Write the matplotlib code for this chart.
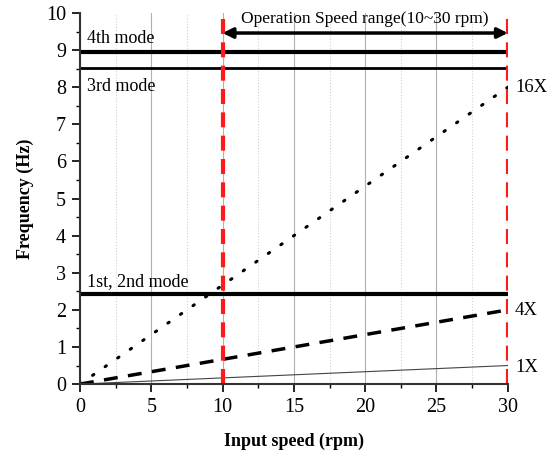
import matplotlib
matplotlib.use("Agg")
import matplotlib.pyplot as plt
from matplotlib.ticker import MultipleLocator

plt.rcParams['font.family'] = ['Liberation Serif', 'DejaVu Serif']

speed = [0, 30]
x1 = [0.0, 0.5]
x4 = [0.0, 2.0]
x16 = [0.0, 8.0]
mode12 = 2.42
mode3 = 8.51
mode4 = 8.96
range_lo, range_hi = 10, 30

fig = plt.figure(figsize=(5.58, 4.54), dpi=100)
ax = fig.add_axes([0.1434, 0.154, 0.7666, 0.8174])
ax.set_xlim(0, 30)
ax.set_ylim(0, 10)

ax.xaxis.set_major_locator(MultipleLocator(5))
ax.xaxis.set_minor_locator(MultipleLocator(2.5))
ax.yaxis.set_major_locator(MultipleLocator(1))
ax.yaxis.set_minor_locator(MultipleLocator(0.5))
ax.grid(which='major', axis='x', color='#b0b0b0', lw=0.8, ls='-')
ax.grid(which='minor', axis='x', color='#d0d0d0', lw=0.8, ls=':')
ax.set_axisbelow(True)

for s in ['top', 'right']:
    ax.spines[s].set_visible(False)
for s in ['left', 'bottom']:
    ax.spines[s].set_linewidth(1.5)
    ax.spines[s].set_color('#333333')

ax.tick_params(which='major', length=6, width=1.2, labelsize=14.5, direction='out', pad=4)
ax.tick_params(which='minor', length=3, width=1.0, direction='out')

ax.plot(speed, x1, color='#444444', lw=0.8)
ax.plot(speed, x4, color='black', lw=2.5, ls=(0, (4, 3)))
ax.plot(speed, x16, color='black', lw=2.2, ls=(0, (0.5, 4.5)), dash_capstyle='round')

ax.hlines([mode4, mode12], 0, 30, color='black', lw=3)
ax.hlines([mode3], 0, 30, color='black', lw=2)

ax.axvline(range_lo, color='#ff1a1a', lw=3, ls=(0, (3.6, 2.0)))
ax.axvline(range_hi, color='#ff1a1a', lw=3, ls=(0, (3.6, 2.0)))

ax.annotate('', xy=(range_hi, 9.46), xytext=(range_lo, 9.46),
            arrowprops=dict(arrowstyle='<|-|>', color='black', lw=2.5,
                            mutation_scale=15, shrinkA=0, shrinkB=0))
ax.text(20, 9.83, 'Operation Speed range(10~30 rpm)', ha='center', va='center', fontsize=12.5)

ax.text(0.5, 9.3, '4th mode', ha='left', va='center', fontsize=13)
ax.text(0.5, 8.03, '3rd mode', ha='left', va='center', fontsize=13)
ax.text(0.5, 2.75, '1st, 2nd mode', ha='left', va='center', fontsize=13)
ax.text(30.5, 7.98, '16X', ha='left', va='center', fontsize=13.5, clip_on=False)
ax.text(30.5, 1.97, '4X', ha='left', va='center', fontsize=13.5, clip_on=False)
ax.text(30.5, 0.46, '1X', ha='left', va='center', fontsize=13.5, clip_on=False)

ax.set_xlabel('Input speed (rpm)', fontsize=13, fontweight='bold', labelpad=11)
ax.set_ylabel('Frequency (Hz)', fontsize=13, fontweight='bold', labelpad=9)

fig.savefig('out.png', dpi=100)
